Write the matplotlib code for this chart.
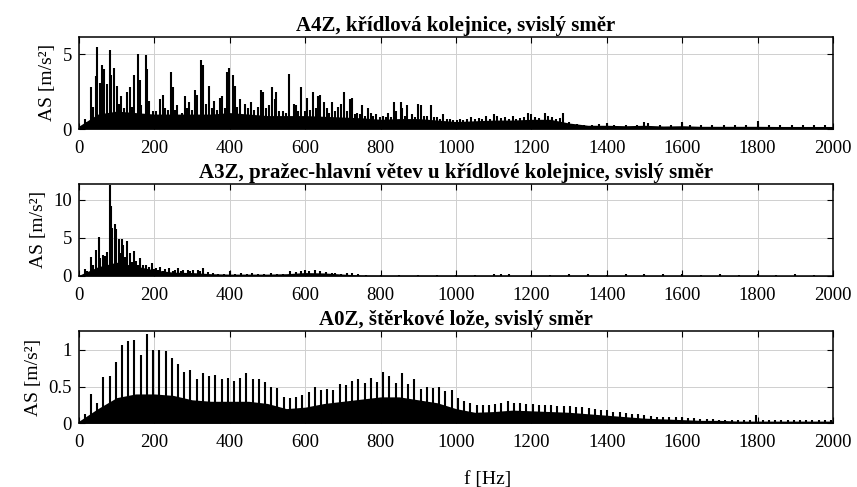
import matplotlib
matplotlib.use("Agg")
import matplotlib.pyplot as plt
import numpy as np

plt.rcParams['font.family'] = ['Liberation Serif', 'DejaVu Serif']

titles = ["A4Z, křídlová kolejnice, svislý směr",
          "A3Z, pražec-hlavní větev u křídlové kolejnice, svislý směr",
          "A0Z, štěrkové lože, svislý směr"]
ylabel = "AS [m/s²]"
xlabel = "f [Hz]"
xticks = [0, 200, 400, 600, 800, 1000, 1200, 1400, 1600, 1800, 2000]

# ---- A4Z peaks ----
a4_f = [16, 22, 31, 37, 46, 49, 55, 61, 66, 75, 81, 86, 93, 102, 105, 112, 120, 128, 134, 140,
        146, 157, 161, 165, 177, 181, 187, 196, 205, 216, 223, 229, 236, 243, 249, 255, 261, 272, 280, 287,
        293, 300, 307, 313, 324, 329, 338, 345, 352, 358, 366, 373, 378, 386, 393, 397, 408, 413, 420, 428,
        439, 448, 457, 465, 474, 482, 488, 497, 505, 511, 519, 523, 531, 542, 550, 557, 569, 575, 582, 588,
        599, 606, 614, 621, 628, 635, 639, 651, 657, 664, 670, 679, 688, 694, 703, 711, 719, 723, 731, 738,
        745, 751, 758, 766, 774, 781, 789, 798, 807, 813, 820, 828, 836, 842, 853, 858, 865, 871, 882, 891,
        900, 906, 914, 922, 935, 942, 949, 958, 966, 975, 984, 993, 1002, 1010, 1019, 1030, 1040, 1050, 1060, 1070,
        1080, 1090, 1100, 1110, 1120, 1130, 1140, 1150, 1160, 1170, 1180, 1190, 1200, 1210, 1220, 1235, 1245, 1255, 1265, 1275,
        1285, 1300, 1320, 1340, 1360, 1380, 1400, 1420, 1450, 1480, 1500, 1510, 1540, 1570, 1600, 1620, 1650, 1680, 1710, 1740,
        1770, 1800, 1830, 1860, 1890, 1920, 1950, 1980]
a4_v = [0.67, 0.5, 2.8, 1.5, 3.55, 5.5, 3.1, 4.3, 4.0, 3.0, 5.3, 3.6, 4.1, 2.9, 1.7, 2.2, 1.4, 2.5, 2.8, 1.5,
        3.6, 5.0, 3.3, 1.6, 4.95, 4.0, 1.9, 1.2, 1.2, 2.0, 2.3, 1.4, 1.3, 3.8, 2.8, 1.3, 1.6, 1.1, 2.2, 1.4,
        1.8, 1.3, 2.6, 2.3, 4.6, 4.3, 1.7, 2.9, 1.4, 1.9, 1.3, 2.1, 2.2, 1.4, 3.8, 4.1, 3.6, 2.9, 1.5, 2.0,
        1.7, 1.4, 1.8, 1.3, 1.5, 2.6, 2.5, 1.4, 1.6, 2.8, 2.0, 2.5, 1.2, 1.2, 1.1, 3.7, 1.7, 1.6, 1.2, 2.8,
        1.2, 2.1, 1.3, 2.5, 1.4, 2.2, 2.3, 1.8, 1.4, 1.1, 1.8, 1.2, 1.5, 1.7, 2.5, 1.2, 2.0, 2.1, 1.0, 1.1,
        1.0, 1.6, 0.9, 1.4, 1.1, 0.9, 1.0, 0.8, 0.9, 0.8, 1.1, 0.8, 1.8, 1.2, 1.8, 1.4, 0.9, 1.6, 1.0, 0.8,
        1.7, 1.6, 0.9, 0.9, 1.6, 0.8, 0.8, 0.7, 1.0, 0.7, 0.7, 0.6, 0.6, 0.7, 0.6, 0.7, 0.8, 0.65, 0.75, 0.7,
        0.9, 0.7, 1.0, 0.85, 0.75, 0.8, 0.7, 0.9, 0.7, 0.75, 0.8, 1.1, 1.0, 0.8, 0.75, 1.1, 0.85, 0.8, 0.7, 0.75,
        1.05, 0.45, 0.35, 0.3, 0.3, 0.35, 0.4, 0.3, 0.3, 0.3, 0.45, 0.4, 0.3, 0.3, 0.45, 0.3, 0.3, 0.25, 0.25, 0.3,
        0.25, 0.55, 0.25, 0.25, 0.3, 0.25, 0.3, 0.25]

# ---- A3Z peaks ----
a3_f = [16, 20, 31, 37, 46, 52, 57, 64, 68, 75, 81, 84, 88, 95, 99, 105, 110, 114, 118, 123,
        128, 134, 140, 146, 152, 156, 161, 170, 179, 185, 194, 200, 205, 210, 216, 222, 227, 238, 249, 255,
        263, 270, 276, 289, 295, 302, 315, 322, 329, 342, 355, 370, 385, 400, 415, 430, 445, 460, 475, 490,
        510, 525, 540, 560, 575, 590, 600, 610, 625, 640, 655, 670, 680, 695, 710, 725, 740, 760, 800, 850,
        900, 950, 1000, 1050, 1100, 1120, 1140, 1200, 1250, 1300, 1350, 1400, 1450, 1500, 1550, 1600, 1650, 1700, 1750, 1800,
        1850, 1900, 1950]
a3_v = [0.87, 0.7, 2.5, 1.5, 3.35, 5.1, 2.4, 2.7, 2.6, 3.2, 11.9, 9.1, 6.3, 6.8, 6.1, 4.9, 3.0, 4.8, 4.1, 2.5,
        4.6, 3.0, 1.8, 3.3, 2.0, 1.5, 2.4, 1.4, 1.5, 1.2, 1.65, 0.9, 1.0, 0.8, 1.2, 0.7, 0.9, 1.1, 0.65, 0.8,
        1.0, 0.7, 0.74, 0.85, 0.7, 0.75, 0.75, 0.6, 1.0, 0.5, 0.35, 0.3, 0.3, 0.7, 0.3, 0.35, 0.3, 0.4, 0.3, 0.3,
        0.35, 0.3, 0.3, 0.6, 0.55, 0.7, 0.85, 0.65, 0.75, 0.7, 0.55, 0.4, 0.35, 0.3, 0.4, 0.35, 0.3, 0.15, 0.12, 0.1,
        0.1, 0.1, 0.1, 0.12, 0.25, 0.3, 0.25, 0.12, 0.15, 0.2, 0.25, 0.15, 0.2, 0.25, 0.2, 0.25, 0.15, 0.2, 0.15, 0.2,
        0.15, 0.2, 0.15]

# ---- A0Z peaks (harmonic comb) ----
a0_f = [15, 31.5, 48, 64.5, 81, 97.5, 114, 130.5, 147, 163.5, 180, 196.5, 213, 229.5, 246, 262.5, 279, 295.5, 312, 328.5,
        345, 361.5, 378, 394.5, 411, 427.5, 444, 460.5, 477, 493.5, 510, 526.5, 543, 559.5, 576, 592.5, 609, 625.5, 642, 658.5,
        675, 691.5, 708, 724.5, 741, 757.5, 774, 790.5, 807, 823.5, 840, 856.5, 873, 889.5, 906, 922.5, 939, 955.5, 972, 988.5,
        1005, 1021.5, 1038, 1054.5, 1071, 1087.5, 1104, 1120.5, 1137, 1153.5, 1170, 1186.5, 1203, 1219.5, 1236, 1252.5, 1269, 1285.5, 1302, 1318.5,
        1335, 1351.5, 1368, 1384.5, 1401, 1417.5, 1434, 1450.5, 1467, 1483.5, 1500, 1516.5, 1533, 1549.5, 1566, 1582.5, 1599, 1615.5, 1632, 1648.5,
        1665, 1681.5, 1698, 1714.5, 1731, 1747.5, 1764, 1780.5, 1797, 1813.5, 1830, 1846.5, 1863, 1879.5, 1896, 1912.5, 1929, 1945.5, 1962, 1978.5,
        1995]
a0_v = [0.12, 0.40, 0.27, 0.63, 0.64, 0.83, 1.06, 1.12, 1.13, 0.93, 1.21, 1.00, 1.00, 0.98, 0.89, 0.81, 0.70, 0.73, 0.61, 0.68,
        0.65, 0.66, 0.61, 0.62, 0.58, 0.62, 0.68, 0.61, 0.60, 0.56, 0.49, 0.48, 0.36, 0.34, 0.36, 0.38, 0.42, 0.50, 0.45, 0.47,
        0.46, 0.54, 0.52, 0.57, 0.61, 0.55, 0.62, 0.56, 0.70, 0.65, 0.55, 0.69, 0.53, 0.61, 0.47, 0.49, 0.48, 0.50, 0.44, 0.45,
        0.34, 0.30, 0.27, 0.25, 0.25, 0.25, 0.26, 0.28, 0.30, 0.27, 0.27, 0.26, 0.26, 0.25, 0.25, 0.25, 0.24, 0.24, 0.23, 0.22,
        0.22, 0.21, 0.20, 0.18, 0.18, 0.16, 0.15, 0.14, 0.13, 0.12, 0.11, 0.10, 0.09, 0.09, 0.08, 0.08, 0.09, 0.07, 0.07, 0.06,
        0.06, 0.06, 0.05, 0.05, 0.05, 0.05, 0.05, 0.05, 0.11, 0.05, 0.04, 0.04, 0.04, 0.04, 0.04, 0.04, 0.04, 0.04, 0.04, 0.04,
        0.04]

# ---- dense floor levels (every 50 Hz) ----
floor_f = [0, 50, 100, 150, 200, 250, 300, 350, 400, 450, 500, 550, 600, 650, 700, 750, 800, 850, 900, 950,
           1000, 1050, 1100, 1150, 1200, 1250, 1300, 1350, 1400, 1450, 1500, 1550, 1600, 1650, 1700, 1750, 1800, 1850, 1900, 1950, 2000]
a4_floor = [0.2, 1.0, 1.2, 1.1, 1.0, 1.0, 1.0, 1.0, 1.1, 1.0, 0.9, 0.9, 0.9, 0.85, 0.8, 0.75, 0.65, 0.7, 0.7, 0.6,
            0.5, 0.55, 0.6, 0.6, 0.65, 0.65, 0.4, 0.25, 0.25, 0.22, 0.25, 0.2, 0.22, 0.18, 0.18, 0.18, 0.18, 0.17, 0.17, 0.17, 0.17]
a3_floor = [0.1, 1.2, 1.8, 1.3, 0.8, 0.5, 0.45, 0.3, 0.25, 0.25, 0.25, 0.3, 0.45, 0.4, 0.25, 0.12, 0.1, 0.1, 0.1, 0.1,
            0.1, 0.1, 0.1, 0.1, 0.1, 0.1, 0.1, 0.1, 0.09, 0.09, 0.09, 0.09, 0.09, 0.08, 0.08, 0.08, 0.08, 0.07, 0.07, 0.07, 0.07]
a0_floor = [0.03, 0.2, 0.35, 0.4, 0.4, 0.38, 0.32, 0.3, 0.3, 0.3, 0.27, 0.2, 0.22, 0.27, 0.3, 0.33, 0.36, 0.36, 0.32, 0.28,
            0.2, 0.15, 0.16, 0.18, 0.17, 0.16, 0.15, 0.13, 0.11, 0.09, 0.07, 0.06, 0.05, 0.04, 0.04, 0.03, 0.03, 0.03, 0.03, 0.03, 0.03]

panels = [
    (a4_f, a4_v, a4_floor, 6.2, [0, 5], -0.031),
    (a3_f, a3_v, a3_floor, 12.1, [0, 5, 10], -0.042),
    (a0_f, a0_v, a0_floor, 1.26, [0, 0.5, 1], -0.049),
]

fig = plt.figure(figsize=(8.57, 4.87), dpi=100)
left, width = 79 / 857, 754 / 857
bottoms = [1 - 129 / 487, 1 - 276 / 487, 1 - 423.3 / 487]
height = 92.5 / 487

for i, (f, v, fl, ymax, yt, ylx) in enumerate(panels):
    ax = fig.add_axes([left, bottoms[i], width, height])
    ax.grid(True, color='#cfcfcf', lw=0.7)
    ax.set_axisbelow(True)
    ax.fill_between(floor_f, 0, fl, color='black', lw=0)
    ax.vlines(f, 0, v, color='black', lw=1.5)
    ax.set_xlim(0, 2000)
    ax.set_ylim(0, ymax)
    ax.set_xticks(xticks)
    ax.set_yticks(yt)
    ax.set_yticklabels([('%g' % t) for t in yt])
    ax.tick_params(direction='in', top=True, right=True, length=4, width=0.8,
                   labelsize=13.5)
    ax.tick_params(axis='x', pad=8)
    ax.tick_params(axis='y', pad=5)
    for s in ax.spines.values():
        s.set_linewidth(1.1)
    ax.set_title(titles[i], fontweight='bold', fontsize=15, pad=4)
    ax.set_ylabel(ylabel, fontsize=14)
    ax.yaxis.set_label_coords(ylx, 0.5)
    if i == 2:
        ax.set_xlabel(xlabel, fontsize=14)
        ax.xaxis.set_label_coords(0.542, -0.52)

fig.savefig("out.png", dpi=100)
